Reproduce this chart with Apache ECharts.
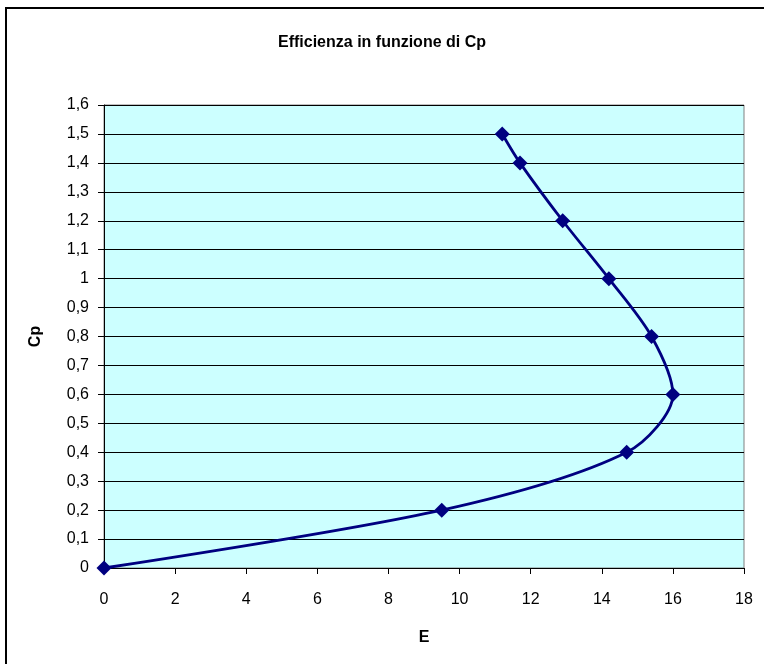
<!DOCTYPE html>
<html>
<head>
<meta charset="utf-8">
<script src="https://cdn.jsdelivr.net/npm/echarts@6/dist/echarts.min.js"></script>
<style>
  html, body { margin: 0; padding: 0; background: #fff; }
  #chart { width: 764px; height: 664px; }
</style>
</head>
<body>
<div id="chart"></div>
<script>
// dati
var valoriE = [0, 9.5, 14.7, 16.0, 15.4, 14.2, 12.9, 11.7, 11.2];
var valoriCp = [0, 0.2, 0.4, 0.6, 0.8, 1.0, 1.2, 1.4, 1.5];

var punti = valoriE.map(function (e, i) { return [e, valoriCp[i]]; });

function virgola(v) {
  return String(Math.round(v * 10) / 10).replace('.', ',');
}

var chart = echarts.init(document.getElementById('chart'));
chart.setOption({
  animation: false,
  textStyle: { fontFamily: 'Liberation Sans, Arial, sans-serif' },
  title: {
    text: 'Efficienza in funzione di Cp',
    left: 'center',
    top: 30,
    textStyle: { fontSize: 16, fontWeight: 'bold', color: '#000', fontFamily: 'Liberation Sans, Arial, sans-serif' }
  },
  graphic: [{
    type: 'polyline',
    shape: { points: [[6, 700], [6, 8], [800, 8]] },
    style: { stroke: '#000', lineWidth: 2, fill: null }
  }],
  grid: {
    left: 104, right: 20, top: 105, bottom: 96,
    show: true,
    backgroundColor: '#ccffff',
    borderColor: '#808080',
    borderWidth: 1
  },
  xAxis: {
    type: 'value',
    min: 0, max: 18, interval: 2,
    name: 'E',
    nameLocation: 'middle',
    nameGap: 62,
    nameTextStyle: { fontSize: 16, fontWeight: 'bold', color: '#000' },
    axisLine: { lineStyle: { color: '#000', width: 1 } },
    axisTick: { show: true, length: 6, lineStyle: { color: '#000' } },
    axisLabel: { fontSize: 16, color: '#000', margin: 24 },
    splitLine: { show: false }
  },
  yAxis: {
    type: 'value',
    min: 0, max: 1.6, interval: 0.1,
    name: 'Cp',
    nameLocation: 'middle',
    nameGap: 60,
    nameRotate: 90,
    nameTextStyle: { fontSize: 16, fontWeight: 'bold', color: '#000' },
    axisLine: { show: true, lineStyle: { color: '#000', width: 1 } },
    axisTick: { show: true, length: 6, lineStyle: { color: '#000' } },
    axisLabel: { fontSize: 16, color: '#000', margin: 15, formatter: virgola },
    splitLine: { show: true, lineStyle: { color: '#000', width: 1 } }
  },
  series: [{
    type: 'line',
    data: punti,
    smooth: 0.3,
    symbol: 'diamond',
    symbolSize: 15,
    lineStyle: { color: '#000080', width: 2.8 },
    itemStyle: { color: '#000080' },
    z: 5
  }]
});
</script>
</body>
</html>
